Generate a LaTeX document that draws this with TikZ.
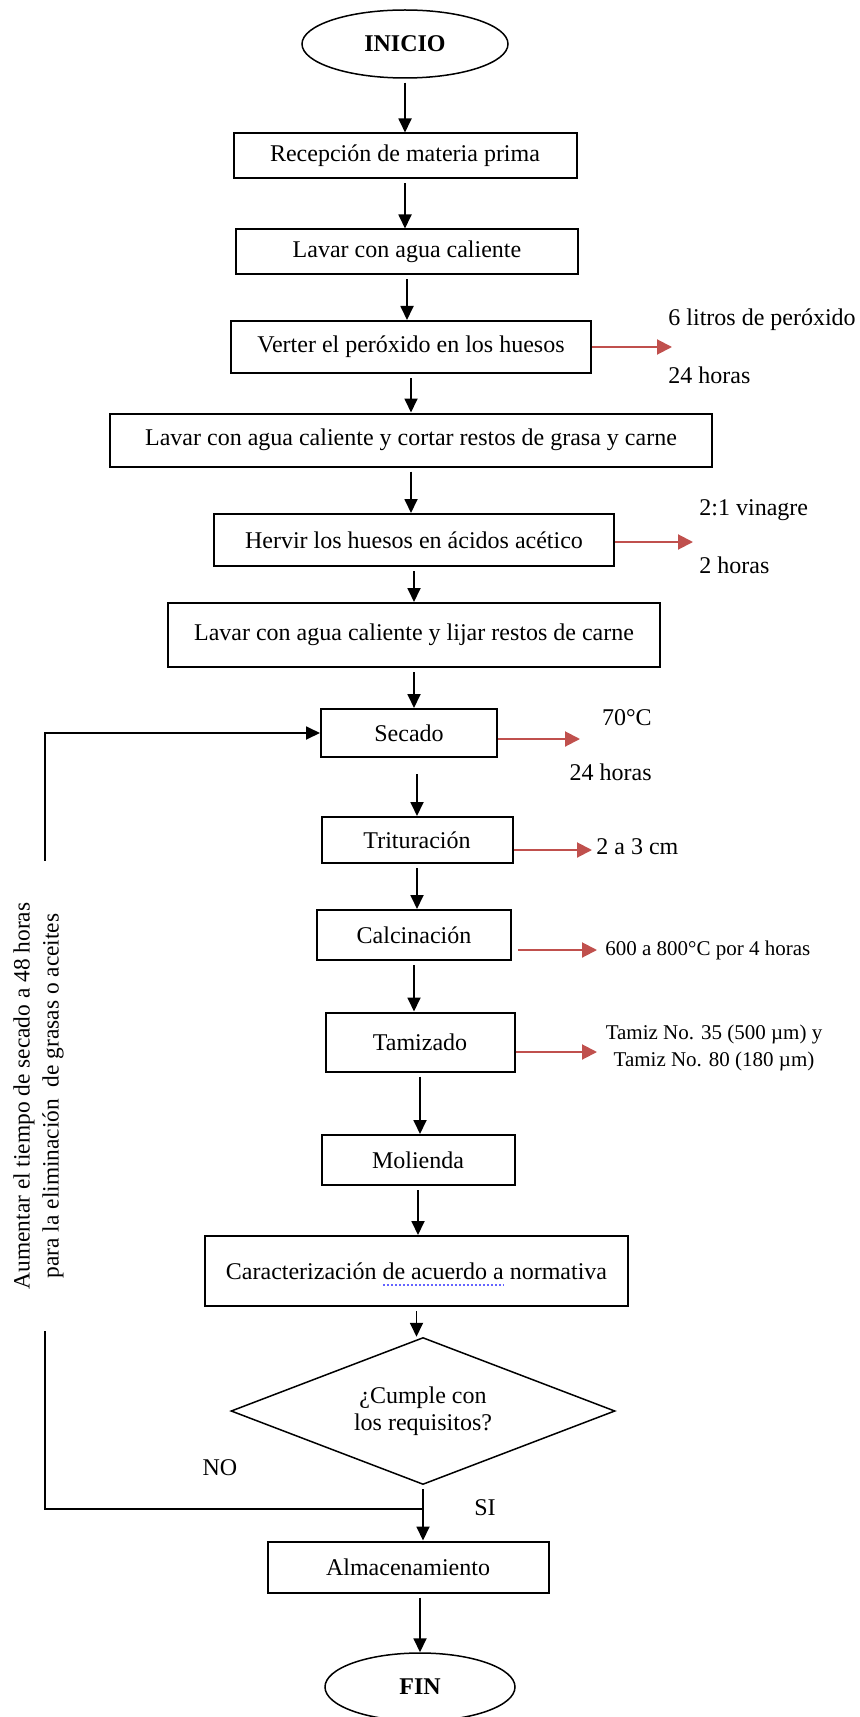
\documentclass[tikz,border=0pt]{standalone}
\usepackage{fontspec}
\setmainfont{Liberation Serif}
\usetikzlibrary{shapes.geometric,arrows.meta}
\definecolor{flecharoja}{RGB}{192,80,77}
\definecolor{subrayado}{RGB}{100,100,255}

\begin{document}
\begin{tikzpicture}[x=0.5pt,y=-0.5pt,
    every node/.style={font=\fontsize{12}{14.5}\selectfont},
    paso/.style={draw,rectangle,line width=1pt,inner sep=2pt},
    terminal/.style={draw,ellipse,line width=0.75pt,minimum width=103pt,minimum height=34pt,
      font=\fontsize{12}{14.5}\selectfont\bfseries},
    decision/.style={draw,diamond,aspect=2.6,line width=0.75pt,align=center,inner sep=0pt,
      minimum width=192pt,minimum height=73.5pt,font=\fontsize{12}{13.5}\selectfont},
    dato/.style={inner sep=0pt},
    chico/.style={inner sep=0pt,font=\fontsize{10.5}{13.5}\selectfont},
    flecha/.style={-{Triangle[length=7pt,width=6.5pt]},line width=0.9pt,shorten <=2pt},
    roja/.style={-{Triangle[length=7.5pt,width=7.5pt]},line width=1pt,color=flecharoja}]
  \useasboundingbox (0,0) rectangle (859,1717);
  \draw
    (405,44) node[terminal] (inicio) {INICIO}
    (405,156) node[paso,minimum width=171.5pt,minimum height=22.5pt] (recepcion) {Recepción de materia prima}
    (407,252) node[paso,minimum width=171pt,minimum height=22.5pt] (lavar) {Lavar con agua caliente}
    (411,347) node[paso,minimum width=180pt,minimum height=26pt] (verter) {Verter el peróxido en los huesos}
    (411,440) node[paso,minimum width=301pt,minimum height=26.5pt] (cortar) {Lavar con agua caliente y cortar restos de grasa y carne}
    (414,540) node[paso,minimum width=200pt,minimum height=26pt] (hervir) {Hervir los huesos en ácidos acético}
    (414,635) node[paso,minimum width=246pt,minimum height=32pt] (lijar) {Lavar con agua caliente y lijar restos de carne}
    (409,733) node[paso,minimum width=88pt,minimum height=24pt] (secado) {Secado}
    (417,840) node[paso,minimum width=95.5pt,minimum height=23pt] (trituracion) {Trituración}
    (414,935) node[paso,minimum width=97pt,minimum height=25pt] (calcinacion) {Calcinación}
    (420,1042) node[paso,minimum width=94.5pt,minimum height=29.5pt] (tamizado) {Tamizado}
    (418,1160) node[paso,minimum width=96.5pt,minimum height=25pt] (molienda) {Molienda}
    (416.5,1271) node[paso,minimum width=211.5pt,minimum height=35pt] (caracterizacion) {Caracterización de acuerdo a normativa}
    (423,1411) node[decision] (cumple) {¿Cumple con\\los requisitos?}
    (408,1567) node[paso,minimum width=140.5pt,minimum height=25.5pt] (almacen) {Almacenamiento}
    (420,1687) node[terminal,minimum width=95pt] (fin) {FIN};
  % datos de cada etapa
  \draw
    (668,320) node[dato,anchor=west] (litros) {6 litros de peróxido}
    (668,375) node[dato,anchor=west] (horasverter) {24 horas}
    (699,510) node[dato,anchor=west] (vinagre) {2:1 vinagre}
    (699,565) node[dato,anchor=west] (horashervir) {2 horas}
    (652,718) node[dato,anchor=east] (temp) {70°C}
    (652,772) node[dato,anchor=east] (horassecado) {24 horas}
    (596,847) node[dato,anchor=west] (tamano) {2 a 3 cm}
    (605,950) node[chico,anchor=west] (horno) {600 a 800°C por 4 horas}
    (714,1048) node[chico,align=center] (tamices) {Tamiz No. 35 (500 µm) y\\Tamiz No. 80 (180 µm)}
    (220,1468) node[dato] (no) {NO}
    (485,1508) node[dato] (si) {SI};
  \coordinate (verterR) at (672,347);
  \coordinate (hervirR) at (693,542);
  \coordinate (secadoR) at (580,739);
  \coordinate (trituracionR) at (592,850);
  \coordinate (calcinacionR) at (597,950);
  \coordinate (tamizadoR) at (597,1052);
  \coordinate (union) at (423,1509);
  \coordinate (esquina) at (45,1509);
  \begin{scope}[flecha]
    \draw (inicio) to (inicio |- recepcion.north);
    \draw (recepcion) to (recepcion |- lavar.north);
    \draw (lavar) to (lavar |- verter.north);
    \draw (verter) to (verter |- cortar.north);
    \draw (cortar) to (cortar |- hervir.north);
    \draw (hervir) to (hervir |- lijar.north);
    \draw (lijar) to (lijar |- secado.north);
    \draw[shorten <=8pt] (trituracion |- secado.south) to (trituracion);
    \draw (trituracion) to (trituracion |- calcinacion.north);
    \draw (calcinacion) to (calcinacion |- tamizado.north);
    \draw (tamizado) to (tamizado |- molienda.north);
    \draw (molienda) to (molienda |- caracterizacion.north);
    \draw (caracterizacion) to (caracterizacion |- cumple.north);
    \draw (cumple) to (cumple |- almacen.north);
    \draw (fin |- almacen.south) to (fin);
    \draw[shorten <=0pt] (union) -- (esquina) |- (secado);
  \end{scope}
  \begin{scope}[roja]
    \draw (verter.east |- verterR) -- (verterR);
    \draw (hervir.east |- hervirR) -- (hervirR);
    \draw (secado.east |- secadoR) -- (secadoR);
    \draw (trituracion.east |- trituracionR) -- (trituracionR);
    \draw[shorten <=3pt] (calcinacion.east |- calcinacionR) -- (calcinacionR);
    \draw (tamizado.east |- tamizadoR) -- (tamizadoR);
  \end{scope}
  \node[rotate=90,fill=white,align=center,inner xsep=21pt,inner ysep=1pt,
    font=\fontsize{11.7}{14.5}\selectfont] (nota) at (38.5,1096)
    {Aumentar el tiempo de secado a 48 horas\\para la eliminación~ de grasas o aceites};
  \draw[subrayado,line width=1pt,dash pattern=on 1pt off 1pt]
    ([xshift=-16.75pt,yshift=-3pt]caracterizacion.base) -- ++(121,0);
\end{tikzpicture}
\end{document}
